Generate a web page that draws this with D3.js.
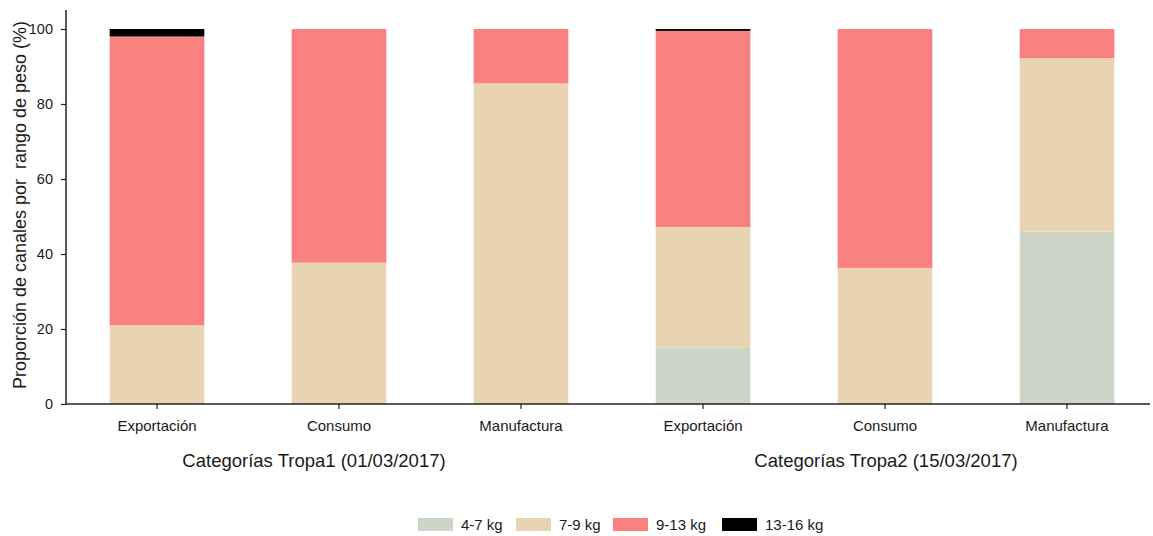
<!DOCTYPE html>
<html>
<head>
<meta charset="utf-8">
<script src="https://cdn.jsdelivr.net/npm/d3@7"></script>
<style>
  body { margin: 0; background: #fff; }
  text { font-family: "Liberation Sans", Arial, sans-serif; fill: #1a1a1a; }
</style>
</head>
<body>
<svg id="chart" width="1153" height="536"></svg>
<script>
// ---- data ----
const categories = ["T1-Exportación", "T1-Consumo", "T1-Manufactura", "T2-Exportación", "T2-Consumo", "T2-Manufactura"];
const categoryLabels = ["Exportación", "Consumo", "Manufactura", "Exportación", "Consumo", "Manufactura"];
const seriesNames = ["4-7 kg", "7-9 kg", "9-13 kg", "13-16 kg"];
const s4_7   = [0,    0,    0,    15.0, 0,    46.0];
const s7_9   = [21.0, 37.7, 85.5, 32.2, 36.3, 46.2];
const s9_13  = [77.0, 62.3, 14.5, 52.3, 63.7, 7.8];
const s13_16 = [2.0,  0,    0,    0.5,  0,    0];
const groupLabels = ["Categorías Tropa1 (01/03/2017)", "Categorías Tropa2 (15/03/2017)"];
const yTicks = [0, 20, 40, 60, 80, 100];
const colors = ["#cdd5c6", "#e8d4b2", "#f98280", "#000000"];

// ---- build table ----
const seriesArrays = [s4_7, s7_9, s9_13, s13_16];
const table = categories.map((c, i) => {
  const row = { cat: c };
  seriesNames.forEach((s, j) => row[s] = seriesArrays[j][i]);
  return row;
});
const stacked = d3.stack().keys(seriesNames)(table);

const svg = d3.select("#chart");
const x = d3.scaleBand().domain(categories).range([66, 1158]).paddingInner(0.48).paddingOuter(0.24);
const y = d3.scaleLinear().domain([0, 100]).range([404, 29]);

// bars
svg.append("g").selectAll("g").data(stacked).join("g")
  .attr("fill", (d, i) => colors[i])
  .selectAll("rect").data(d => d).join("rect")
  .attr("x", d => x(d.data.cat))
  .attr("width", x.bandwidth())
  .attr("y", d => y(d[1]))
  .attr("height", d => Math.max(0, y(d[0]) - y(d[1])));

// y axis
const yAxis = svg.append("g").attr("transform", "translate(66,0)")
  .call(d3.axisLeft(y).tickValues(yTicks).tickSize(5).tickPadding(8));
yAxis.select(".domain").attr("d", "M0,10V404").attr("stroke", "#222").attr("stroke-width", 1.5);
yAxis.selectAll(".tick line").attr("stroke", "#222").attr("stroke-width", 1.2);
yAxis.selectAll(".tick text").style("font-size", "14.5px").attr("fill", "#1a1a1a")
  .style("font-family", "Liberation Sans, Arial, sans-serif");

// x axis
const xAxis = svg.append("g").attr("transform", "translate(0,404)")
  .call(d3.axisBottom(x).tickFormat((d, i) => categoryLabels[i]).tickSize(5).tickPadding(11));
xAxis.select(".domain").attr("d", "M66,0H1150").attr("stroke", "#222").attr("stroke-width", 1.5);
xAxis.selectAll(".tick line").attr("stroke", "#222").attr("stroke-width", 1.2);
xAxis.selectAll(".tick text").style("font-size", "15px").attr("fill", "#1a1a1a")
  .style("font-family", "Liberation Sans, Arial, sans-serif");

// group labels
const groupCenters = [
  (x(categories[0]) + x(categories[2]) + x.bandwidth()) / 2 - 25,
  (x(categories[3]) + x(categories[5]) + x.bandwidth()) / 2 + 1
];
svg.append("g").selectAll("text").data(groupLabels).join("text")
  .attr("x", (d, i) => groupCenters[i])
  .attr("y", 467)
  .attr("text-anchor", "middle")
  .style("font-size", "18.5px")
  .text(d => d);

// y axis title
svg.append("text")
  .attr("transform", "translate(26,205) rotate(-90)")
  .attr("text-anchor", "middle")
  .style("font-size", "18px")
  .style("white-space", "pre")
  .text("Proporción de canales por  rango de peso (%)");

// legend
const legendX = [418, 516, 613, 722];
const lg = svg.append("g").selectAll("g").data(seriesNames).join("g")
  .attr("transform", (d, i) => `translate(${legendX[i]},518)`);
lg.append("rect").attr("width", 35).attr("height", 13).attr("fill", (d, i) => colors[i]);
lg.append("text").attr("x", 43).attr("y", 12).style("font-size", "15px").text(d => d);
</script>
</body>
</html>
